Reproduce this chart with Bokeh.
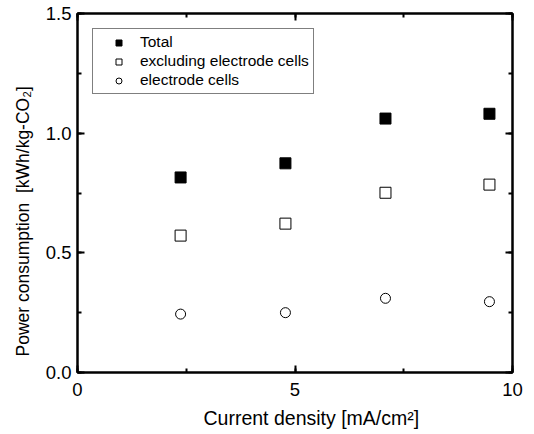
from bokeh.plotting import figure
from bokeh.models import (Range1d, LinearAxis, SingleIntervalTicker, CustomJSTickFormatter,
                          PrintfTickFormatter, Title)
from bokeh.embed import file_html
from bokeh.resources import INLINE

# Data
current_density = [2.37, 4.78, 7.08, 9.47]
total = [0.815, 0.874, 1.061, 1.081]
excluding_electrode = [0.572, 0.622, 0.751, 0.785]
electrode_cells = [0.244, 0.250, 0.310, 0.296]

x_label = "Current density [mA/cm\u00b2]"
y_label = "Power consumption\u00a0\u00a0[kWh/kg-CO\u2082]"
series_names = ["Total", "excluding electrode cells", "electrode cells"]

FONT = "Liberation Sans"

p = figure(width=534, height=434, output_backend="svg", toolbar_location=None,
           x_range=Range1d(0, 10), y_range=Range1d(0, 1.5),
           min_border_left=77, min_border_right=22, min_border_top=13, min_border_bottom=61)

p.background_fill_color = "white"
p.border_fill_color = "white"
p.outline_line_color = "black"
p.outline_line_width = 2
p.xgrid.grid_line_color = None
p.ygrid.grid_line_color = None

p.scatter(current_density, total, marker="square", size=11,
          fill_color="black", line_color="black", line_width=1, legend_label=series_names[0])
p.scatter(current_density, excluding_electrode, marker="square", size=11,
          fill_color="white", line_color="black", line_width=1, legend_label=series_names[1])
p.scatter(current_density, electrode_cells, marker="circle", size=10,
          fill_color="white", line_color="black", line_width=1, legend_label=series_names[2])


def style_axis(ax, interval, show_labels=True):
    ax.ticker = SingleIntervalTicker(interval=interval, num_minor_ticks=2)
    ax.axis_line_width = 2
    ax.axis_line_color = "black"
    ax.major_tick_in = 7
    ax.major_tick_out = 0
    ax.minor_tick_in = 4
    ax.minor_tick_out = 0
    ax.major_tick_line_width = 2
    ax.minor_tick_line_width = 2
    ax.major_label_text_font = FONT
    ax.major_label_text_color = "black"
    if show_labels:
        ax.major_label_text_font_size = "18.5px"
    else:
        ax.formatter = CustomJSTickFormatter(code="return ''")
        ax.major_label_text_font_size = "0px"
        ax.major_label_standoff = 0


xa = p.xaxis[0]
ya = p.yaxis[0]
style_axis(xa, 5)
style_axis(ya, 0.5)
ya.formatter = PrintfTickFormatter(format="%.1f")
xa.major_label_standoff = 10
ya.major_label_standoff = 6

top = LinearAxis()
right = LinearAxis()
style_axis(top, 5, show_labels=False)
style_axis(right, 0.5, show_labels=False)
p.add_layout(top, "above")
p.add_layout(right, "right")

# Axis titles, placed slightly off-centre like the reference
x_title = Title(text=x_label, align="left", offset=126, standoff=12,
                text_font=FONT, text_font_size="19.5px", text_font_style="normal",
                text_color="black")
y_title = Title(text=y_label, align="left", offset=16, standoff=19,
                text_font=FONT, text_font_size="17.5px", text_font_style="normal",
                text_color="black")
p.add_layout(x_title, "below")
p.add_layout(y_title, "left")

lg = p.legend[0]
lg.location = "top_left"
lg.margin = 15
lg.padding = 4
lg.spacing = 1
lg.glyph_width = 43
lg.glyph_height = 15
lg.label_height = 18
lg.label_standoff = 0
lg.label_text_font = FONT
lg.label_text_font_size = "15.5px"
lg.label_text_color = "black"
lg.border_line_color = "black"
lg.border_line_width = 1
lg.background_fill_color = "white"
lg.background_fill_alpha = 1

open("out.html", "w").write(file_html(p, INLINE))
